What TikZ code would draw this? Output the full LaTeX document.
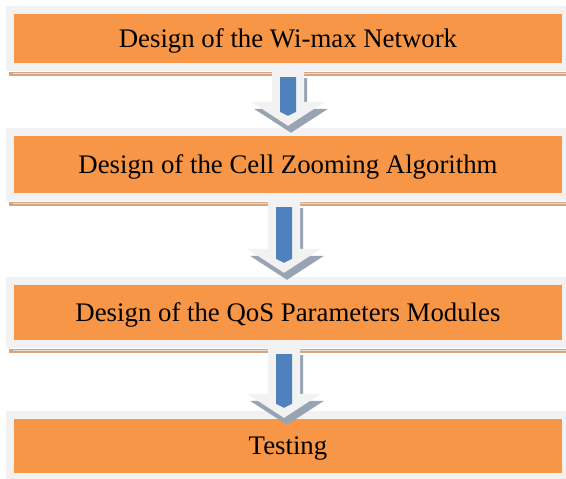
\documentclass[tikz,border=0pt]{standalone}
\usepackage{fontspec}
\setmainfont{Liberation Serif}
\usetikzlibrary{calc,backgrounds}

\definecolor{stageorange}{RGB}{247,150,70}
\definecolor{framegray}{RGB}{242,242,242}
\definecolor{shadowtan}{RGB}{210,166,132}
\definecolor{shadowlight}{RGB}{236,218,203}
\definecolor{arrowblue}{RGB}{79,129,189}
\definecolor{arrowshade}{RGB}{152,164,180}

%% block arrow: #1 upper stage, #2 lower stage, #3 x, #4 tip above lower stage
\newcommand{\flowarrow}[4]{%
  \coordinate (ax) at (#3,0);
  \coordinate (top) at ($(#1.south -| ax)+(0,-8)$);
  \coordinate (tip) at ($(#2.north -| ax)+(0,#4)$);
  \fill[framegray,
    preaction={fill=arrowshade, transform canvas={shift={(3,-7)}}}]
    let \p1=(top), \p2=(tip) in
    (\x1-16pt,\y1) -- (\x1+16pt,\y1) -- (\x1+16pt,\y2+24pt)
    -- (\x1+37pt,\y2+24pt) -- (\x2,\y2) -- (\x1-37pt,\y2+24pt)
    -- (\x1-16pt,\y2+24pt) -- cycle;
  \fill[arrowblue] let \p1=(top), \p2=(tip) in
    (\x1-8pt,\y1-6pt) -- (\x1+8pt,\y1-6pt) -- (\x1+8pt,\y2+14pt)
    -- (\x2,\y2+10pt) -- (\x1-8pt,\y2+14pt) -- cycle;
}

\begin{document}
\begin{tikzpicture}
[x=1pt,y=1pt,
  stagebox/.style={fill=stageorange, minimum width=548pt, inner sep=0pt,
    text height=18pt, text depth=0pt, font=\fontsize{26.8}{30}\selectfont}]
\useasboundingbox (0,0) rectangle (566,479);
%% stages
\foreach \nodename/\label/\y/\h in {
  n1/Design of the Wi-max Network/440.5/49,
  n2/Design of the Cell Zooming Algorithm/314.5/57,
  n3/Design of the QoS Parameters Modules/166.5/55,
  n4/Testing/33/54} {
  \node (\nodename) at (288,\y) [stagebox, minimum height=\h pt] {\label};
}
%% frames and shadows
\begin{scope}[on background layer]
\fill[white] (0,0) rectangle (566,479);
\foreach \nodename in {n1,n2,n3,n4} {
  \fill[framegray] ($(\nodename.south west)+(-8,-8)$) rectangle ($(\nodename.north east)+(4,8)$);
  \fill[shadowtan] ($(\nodename.south west)+(-5,-9)$) rectangle ($(\nodename.south east)+(4,-13)$);
  \fill[shadowlight] ($(\nodename.south west)+(-1,-9.5)$) rectangle ($(\nodename.south east)+(4,-10.5)$);
}
\end{scope}
%% arrows
\flowarrow{n1}{n2}{288}{10}
\flowarrow{n2}{n3}{284}{12}
\flowarrow{n3}{n4}{284}{1}
\end{tikzpicture}
\end{document}
